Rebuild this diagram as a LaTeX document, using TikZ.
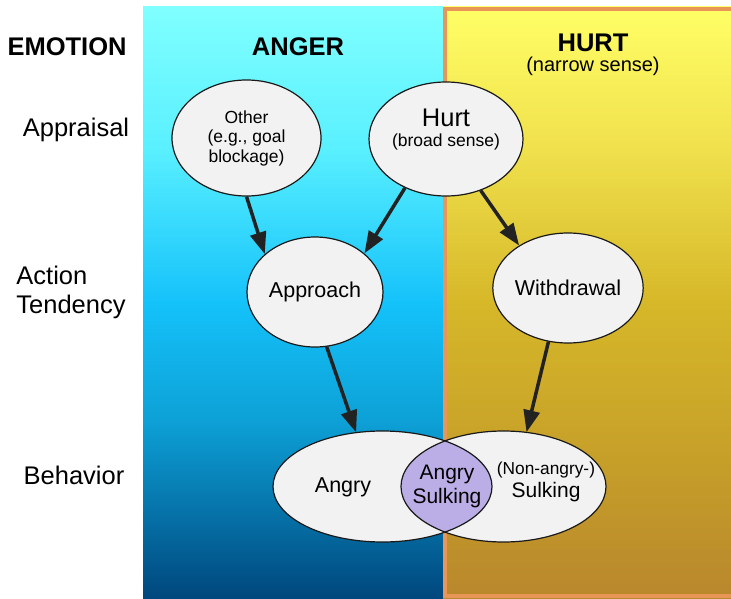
\documentclass[tikz,border=0pt]{standalone}
\usepackage{fontspec}
\setmainfont{Liberation Sans}
\usetikzlibrary{arrows.meta,shapes.geometric,positioning}
\definecolor{bubblefill}{RGB}{242,242,242}
\definecolor{lensfill}{RGB}{187,174,230}
\definecolor{arrowgray}{RGB}{34,34,34}
\definecolor{hurtborder}{RGB}{232,150,88}
\pgfdeclareverticalshading{angershade}{100bp}{rgb(0bp)=(0,0.28,0.49); rgb(25bp)=(0,0.28,0.49);
  rgb(40bp)=(0.05,0.63,0.84); rgb(50bp)=(0.08,0.76,0.98); rgb(63bp)=(0.35,0.94,1);
  rgb(75bp)=(0.5,1,1); rgb(100bp)=(0.5,1,1)}
\pgfdeclareverticalshading{hurtshade}{100bp}{rgb(0bp)=(0.725,0.53,0.176); rgb(25bp)=(0.725,0.53,0.176);
  rgb(37.5bp)=(0.78,0.63,0.16); rgb(50bp)=(0.84,0.72,0.16); rgb(63bp)=(0.94,0.88,0.3);
  rgb(75bp)=(1,1,0.4); rgb(100bp)=(1,1,0.4)}
\begin{document}
\begin{tikzpicture}[x=1pt,y=-1pt,
    bubble/.style={ellipse,draw=black!90,line width=1.2pt,fill=bubblefill,inner sep=0pt,align=center},
    venn/.style={ellipse,fill=bubblefill,inner sep=0pt,minimum height=111pt},
    arr/.style={draw=arrowgray,line width=3.5pt,-{Triangle[length=22pt,width=16pt]}},
    head/.style={font=\fontsize{25.5}{30}\selectfont\bfseries,inner sep=0pt},
    rowlbl/.style={font=\fontsize{25.5}{29}\selectfont,inner sep=0pt,align=left}]
 \useasboundingbox[fill=white] (0,0) rectangle (731,599);
 \shade[shading=angershade] (143,7) rectangle (443,598);
 \shade[shading=hurtshade] (443,7) rectangle (745,598);
 \draw[hurtborder,line width=4pt] (445,9) rectangle (750,596);

 \node[head] (emotion) at (67,47) {EMOTION};
 \node[rowlbl] (appraisal) at (76,130) {Appraisal};
 \node[rowlbl] (tendency) at (71,292) {Action\\Tendency};
 \node[rowlbl] (behavior) at (74,475) {Behavior};
 \node[head] (angertitle) at (298,47) {ANGER};
 \node[head] (hurttitle) at (593,43) {HURT};
 \node[font=\fontsize{20}{24}\selectfont,inner sep=0pt,below=5pt of hurttitle] (narrow) {(narrow sense)};

 \node[bubble,minimum width=149pt,minimum height=116pt,font=\fontsize{17.5}{19.5}\selectfont]
  (other) at (246.5,138) {Other\\(e.g., goal\\blockage)};
 \node[bubble,minimum width=154pt,minimum height=114pt] (hurt) at (446,139) {};
 \node[align=center,inner sep=0pt,font=\fontsize{17.5}{20}\selectfont] (hurttext) at (446,130)
  {{\fontsize{25.5}{20}\selectfont Hurt}\\(broad sense)};
 \node[bubble,minimum width=136pt,minimum height=110pt,font=\fontsize{21.5}{26}\selectfont]
  (approach) at (315,292) {Approach};
 \node[bubble,minimum width=137pt,minimum height=110pt,font=\fontsize{21.5}{26}\selectfont]
  (withdrawal) at (568,288) {Withdrawal};

 \node[venn,minimum width=219pt] (angry) at (382.5,486.5) {};
 \node[venn,minimum width=205pt] (sulking) at (503.5,486.5) {};
 \begin{scope}
  \clip (angry.center) ellipse [x radius=109.5pt,y radius=55.5pt];
  \fill[lensfill] (sulking.center) ellipse [x radius=102.5pt,y radius=55.5pt];
 \end{scope}
 \draw[black!90,line width=1.2pt] (angry.center) ellipse [x radius=109.5pt,y radius=55.5pt]
  (sulking.center) ellipse [x radius=102.5pt,y radius=55.5pt];
 \node[font=\fontsize{21.5}{24}\selectfont] (angrytext) at (343,487) {Angry};
 \node[align=center,font=\fontsize{21}{24}\selectfont] (bothtext) at (447,486) {Angry\\Sulking};
 \node[align=center,font=\fontsize{21}{23}\selectfont] (sulktext) at (546,482)
  {{\fontsize{17.3}{20}\selectfont(Non-angry-)}\\Sulking};

 \draw[arr] (other.south) -- (approach.143);
 \draw[arr] (hurt.230) -- (approach.38);
 \draw[arr] (hurt.304) -- (withdrawal.139);
 \draw[arr] (approach.282) -- (angry.116);
 \draw[arr] (withdrawal.250) -- (sulking.67);
\end{tikzpicture}
\end{document}
